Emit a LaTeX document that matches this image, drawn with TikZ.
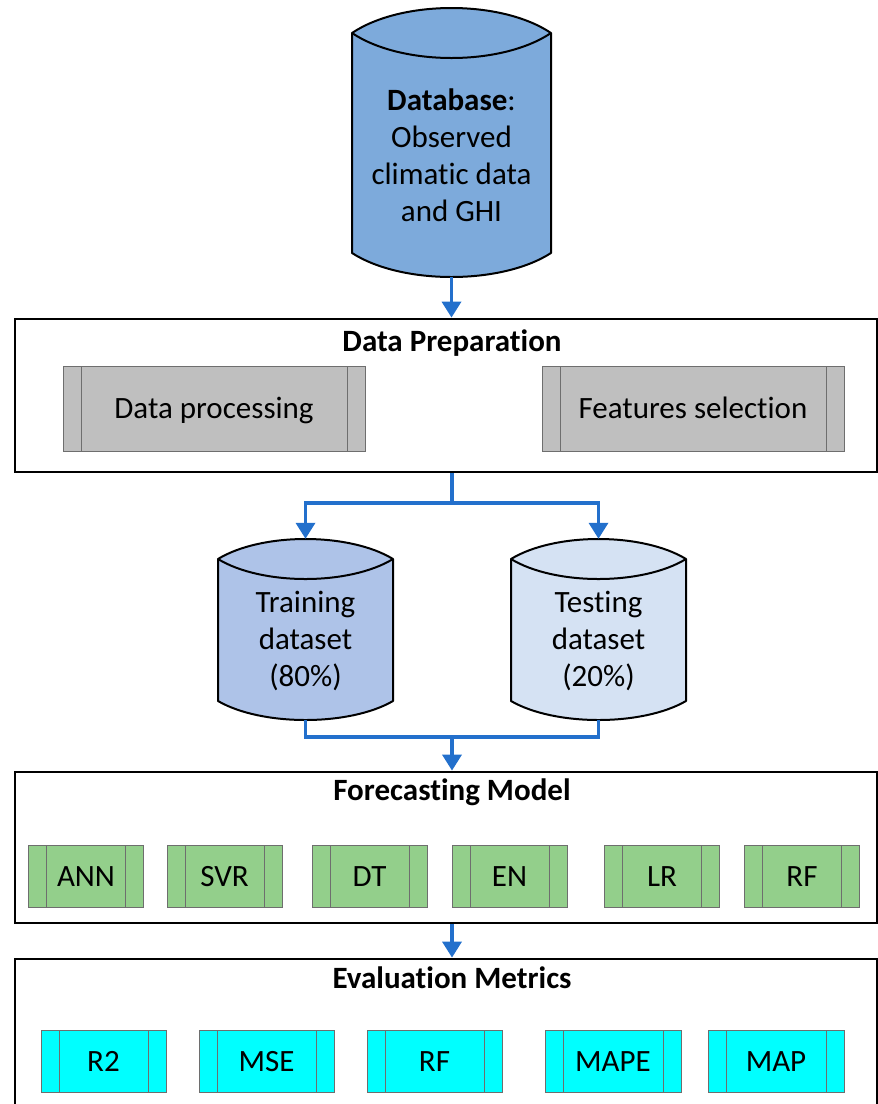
\documentclass[tikz,border=0pt]{standalone}
\usepackage{fontspec}
\setmainfont{Carlito}[Ligatures=NoCommon]
\usetikzlibrary{arrows.meta}
\definecolor{dbblue}{HTML}{7DAADB}
\definecolor{trainblue}{HTML}{AEC3E8}
\definecolor{testblue}{HTML}{D5E2F3}
\definecolor{arrblue}{HTML}{2370CC}
\definecolor{procgray}{HTML}{BFBFBF}
\definecolor{modelgreen}{HTML}{93CF8B}
\definecolor{metcyan}{HTML}{00FFFF}
\definecolor{bandline}{HTML}{6E6E6E}
\newcommand\lenscyl[7]{%
  \pgfmathsetmacro\cylw{#2-#1}%
  \filldraw[cylshape, fill=#7] (#1,#3) .. controls ({#1+\cylw/4},{#3-4*#5/3}) and ({#2-\cylw/4},{#3-4*#5/3}) .. (#2,#3) -- (#2,#4) .. controls ({#2-\cylw/4},{#4+4*#6/3}) and ({#1+\cylw/4},{#4+4*#6/3}) .. (#1,#4) -- cycle;
  \draw[cylshape] (#1,#3) .. controls ({#1+\cylw/4},{#3+4*#5/3}) and ({#2-\cylw/4},{#3+4*#5/3}) .. (#2,#3);
}
\begin{document}
\begin{tikzpicture}[x=1pt,y=-1pt,
 txt/.style={font=\fontsize{31}{37}\selectfont, align=center, inner sep=0pt},
 ttl/.style={font=\fontsize{31}{37}\selectfont\bfseries, inner sep=0pt},
 bigbox/.style={draw=black, line width=2.8pt, inner sep=0pt, minimum width=862pt},
 cylshape/.style={draw=black, line width=2pt, line join=round},
 band/.style={draw=bandline, line width=0.9pt, inner sep=0pt, font=\fontsize{31}{37}\selectfont,
   text height=24pt, text depth=4pt,
   path picture={\draw[bandline,line width=0.9pt]
     ([xshift=18pt]path picture bounding box.north west) -- ([xshift=18pt]path picture bounding box.south west)
     ([xshift=-18pt]path picture bounding box.north east) -- ([xshift=-18pt]path picture bounding box.south east);}},
 proc/.style={band, fill=procgray, minimum width=302pt, minimum height=85pt},
 model/.style={band, fill=modelgreen, minimum width=115pt, minimum height=62pt},
 metric/.style={band, fill=metcyan, minimum height=62pt, minimum width=#1},
 conn/.style={draw=arrblue, line width=3.5pt},
 arr/.style={conn, -{Triangle[width=19pt,length=16pt]}},
]
\useasboundingbox (0,0) rectangle (878,1104);
\clip (0,0) rectangle (878,1104);

% Database cylinder
\lenscyl{352}{551}{33}{253}{25}{24}{dbblue}
\node[inner sep=0pt, minimum width=199pt, minimum height=269pt] (db) at (451.5,142.5) {};
\node[txt] (dbtxt) at (451.5,155) {\textbf{Database}:\\Observed\\climatic data\\and GHI};

% Data preparation
\node[bigbox, minimum height=153pt] (prep) at (446,395.5) {};
\node[ttl] (preptitle) at (452,343) {Data Preparation};
\node[proc] (dproc) at (214,408.5) {Data processing};
\node[proc] (fsel) at (693,408.5) {Features selection};

% Train / test cylinders
\lenscyl{218}{393}{559}{701}{20}{19}{trainblue}
\lenscyl{511}{686}{559}{701}{20}{19}{testblue}
\node[inner sep=0pt, minimum width=175pt, minimum height=181pt] (train) at (305.5,629.5) {};
\node[inner sep=0pt, minimum width=175pt, minimum height=181pt] (test) at (598.5,629.5) {};
\node[txt] (traintxt) at (305.5,641) {Training\\dataset\\(80\%)};
\node[txt] (testtxt) at (598.5,641) {Testing\\dataset\\(20\%)};

% Forecasting model
\node[bigbox, minimum height=151pt] (fc) at (446,847.5) {};
\node[ttl] (fctitle) at (452,792) {Forecasting Model};
\node[model] (ann) at (86,876) {ANN};
\node[model] (svr) at (224.5,876) {SVR};
\node[model] (dt) at (369.5,876) {DT};
\node[model] (en) at (509.5,876) {EN};
\node[model] (lr) at (662,876) {LR};
\node[model] (rfm) at (802,876) {RF};

% Evaluation metrics
\node[bigbox, minimum height=181pt] (ev) at (446,1049.5) {};
\node[ttl] (evtitle) at (452,978) {Evaluation Metrics};
\node[metric=125pt] (r2) at (103.5,1061) {R2};
\node[metric=135pt] (mse) at (266.5,1061) {MSE};
\node[metric=135pt] (rfe) at (434.5,1061) {RF};
\node[metric=136pt] (mape) at (613,1061) {MAPE};
\node[metric=136pt] (map) at (776,1061) {MAP};

% Connectors
\draw[arr] (db.south) -- (prep.north -| db.south);
\coordinate (split) at (452,503);
\draw[conn] (prep.south -| split) -- (split);
\draw[arr] (split) -| (train.north);
\draw[arr] (split) -| (test.north);
\coordinate (merge) at (452,737);
\draw[conn] (train.south) |- (merge);
\draw[conn] (test.south) |- (merge);
\draw[arr] (merge) -- (fc.north -| merge);
\draw[arr] (fc.south -| merge) -- (ev.north -| merge);
\end{tikzpicture}
\end{document}
